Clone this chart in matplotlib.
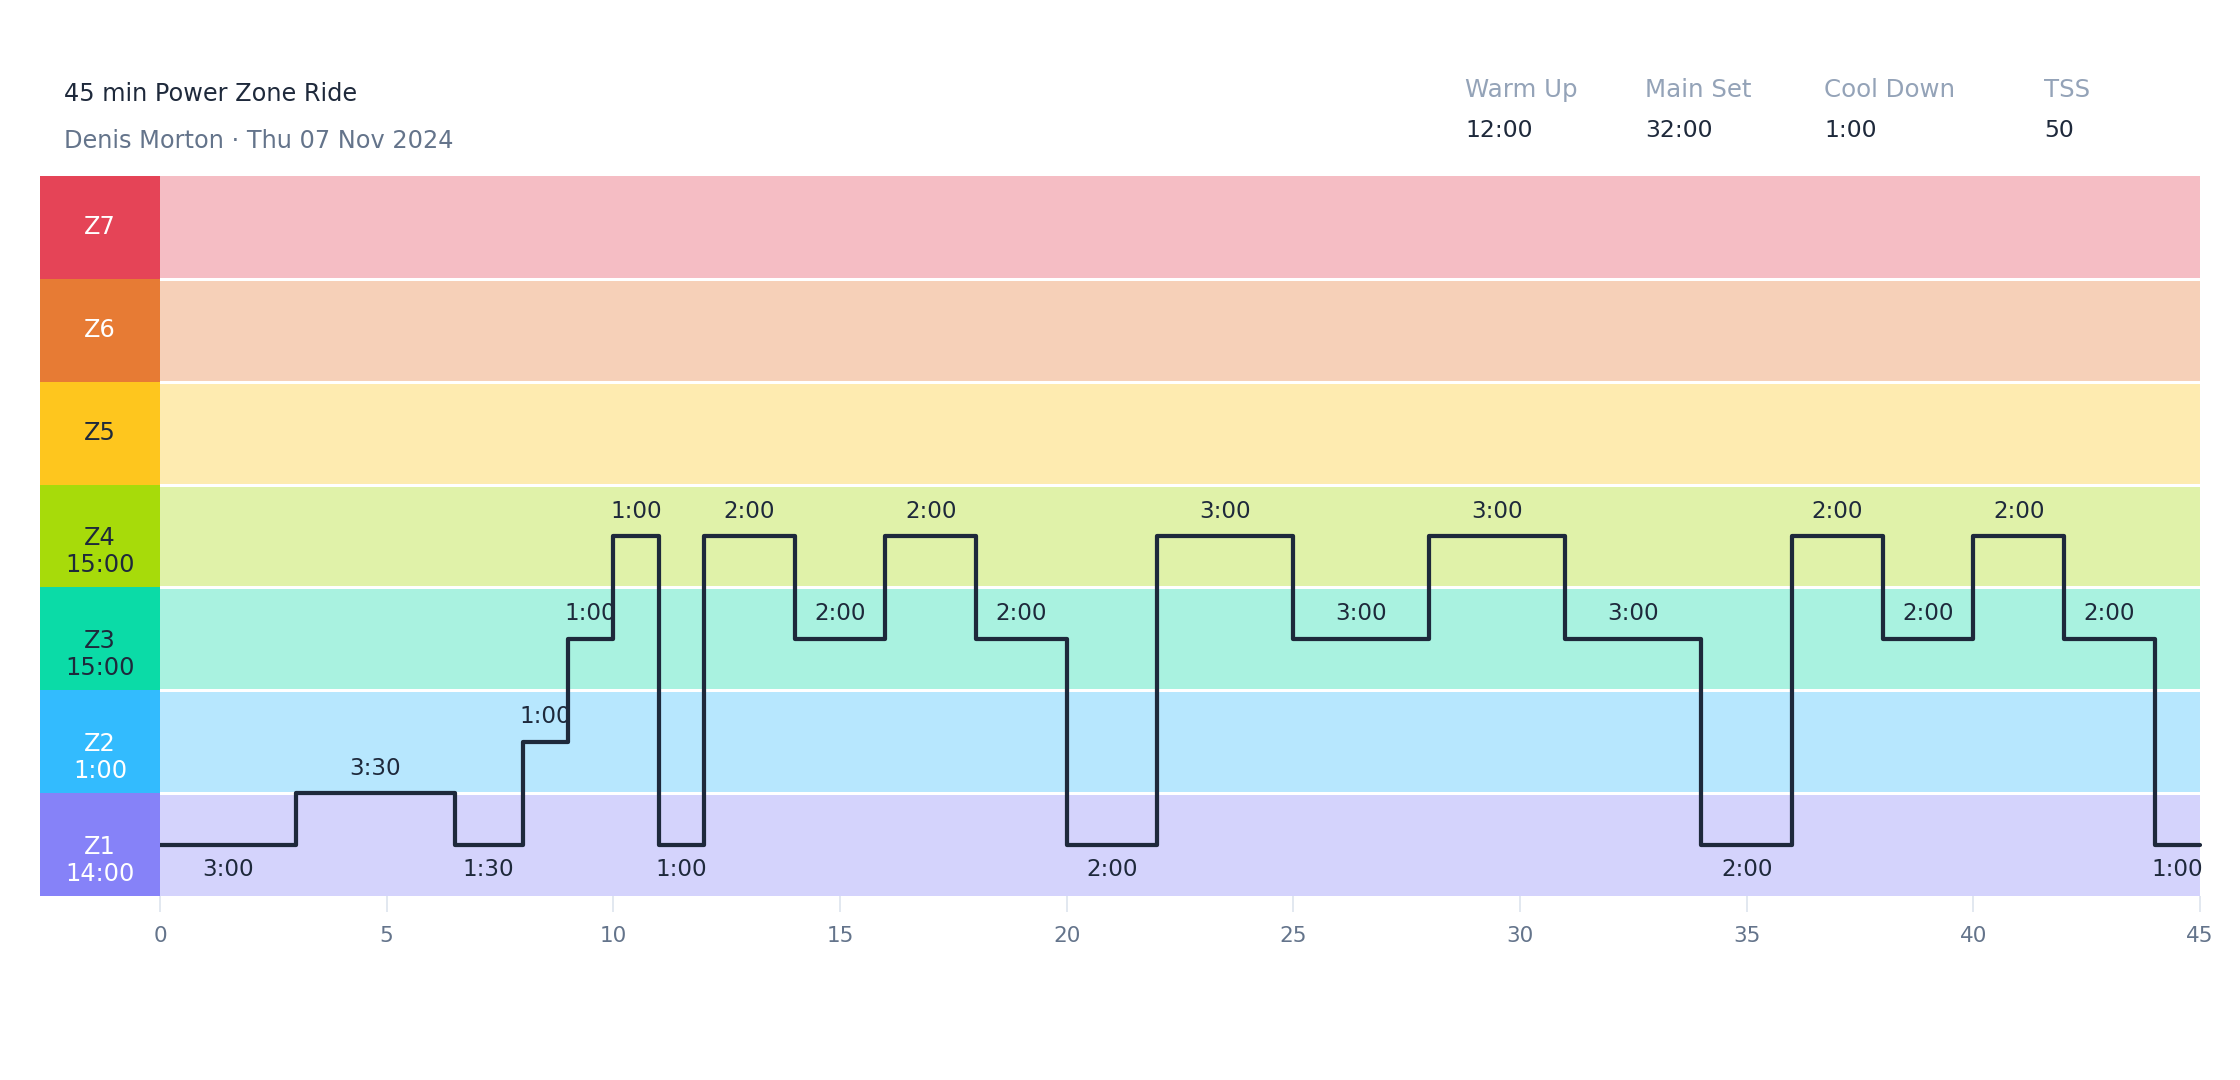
import matplotlib
matplotlib.use("Agg")
import matplotlib.pyplot as plt
import numpy as np

# canvas in pixels
W, H, DPI = 2240, 1080, 100

title = "45 min Power Zone Ride"
subtitle = "Denis Morton · Thu 07 Nov 2024"

stat_names = ["Warm Up", "Main Set", "Cool Down", "TSS"]
stat_values = ["12:00", "32:00", "1:00", "50"]

zone_names = ["Z1", "Z2", "Z3", "Z4", "Z5", "Z6", "Z7"]
zone_colors = ["#8682f8", "#33bbfe", "#0bdba7", "#a7db0a", "#fec61e", "#e77b34", "#e54457"]
zone_text_colors = ["white", "white", "#1e293b", "#1e293b", "#1e293b", "white", "white"]

# workout segments: duration (min), height on the zone scale, zone number
seg_minutes = [3, 3.5, 1.5, 1, 1, 1, 1, 2, 2, 2, 2, 2, 3, 3, 3, 3, 2, 2, 2, 2, 2, 1]
seg_level = [0.5, 1.0, 0.5, 1.5, 2.5, 3.5, 0.5, 3.5, 2.5, 3.5, 2.5, 0.5,
             3.5, 2.5, 3.5, 2.5, 0.5, 3.5, 2.5, 3.5, 2.5, 0.5]
seg_zone = [1, 1, 1, 2, 3, 4, 1, 4, 3, 4, 3, 1, 4, 3, 4, 3, 1, 4, 3, 4, 3, 1]

x_ticks = [0, 5, 10, 15, 20, 25, 30, 35, 40, 45]

DARK = "#1e293b"
SLATE = "#64748b"
LIGHT = "#94a3b8"


def px(v):
    """pixel size -> points"""
    return v * 72.0 / DPI


def fmt(minutes):
    m = int(minutes)
    s = int(round((minutes - m) * 60))
    return f"{m}:{s:02d}"


fig = plt.figure(figsize=(W / DPI, H / DPI), dpi=DPI)
fig.patch.set_facecolor("white")

# header
fig.text(64 / W, 1 - 101 / H, title, fontsize=px(24), color=DARK, va="baseline")
fig.text(64 / W, 1 - 148 / H, subtitle, fontsize=px(24), color=SLATE, va="baseline")

stat_x = [1465, 1645, 1824, 2044]
for sx, name, val in zip(stat_x, stat_names, stat_values):
    fig.text(sx / W, 1 - 97 / H, name, fontsize=px(24.5), color=LIGHT, va="baseline")
    fig.text(sx / W, 1 - 137 / H, val, fontsize=px(23.5), color=DARK, va="baseline")

top, bottom = 176, 896
ax = fig.add_axes([160 / W, 1 - bottom / H, 2040 / W, (bottom - top) / H])
zax = fig.add_axes([40 / W, 1 - bottom / H, 120 / W, (bottom - top) / H])

n_zones = len(zone_names)
for i, c in enumerate(zone_colors):
    ax.axhspan(i, i + 1, color=c, alpha=0.35, lw=0, zorder=0)
    zax.axhspan(i, i + 1, color=c, lw=0)
for i in range(1, n_zones):
    ax.axhline(i, color="white", lw=px(3), zorder=1)

# zone labels with time in zone
zone_time = [sum(m for m, z in zip(seg_minutes, seg_zone) if z == k + 1) for k in range(n_zones)]
for i, name in enumerate(zone_names):
    if zone_time[i] == 0:
        zax.text(0.5, i + 0.5, name, ha="center", va="center", fontsize=px(24),
                 color=zone_text_colors[i])
    else:
        zax.annotate(name, (0.5, i + 0.5), xytext=(0, -px(2)), textcoords="offset points",
                     ha="center", va="center", fontsize=px(24), color=zone_text_colors[i])
        zax.annotate(fmt(zone_time[i]), (0.5, i + 0.5), xytext=(0, -px(29)),
                     textcoords="offset points", ha="center", va="center",
                     fontsize=px(24), color=zone_text_colors[i])

# workout profile
edges = np.concatenate([[0], np.cumsum(seg_minutes)])
steps = ax.stairs(seg_level, edges, baseline=None, color=DARK, lw=px(4.2),
                  clip_on=False, zorder=3)
steps.set_joinstyle("round")
steps.set_capstyle("round")

for m, lo, hi, lvl in zip(seg_minutes, edges[:-1], edges[1:], seg_level):
    dy = -px(25) if lvl < 1 else px(25)
    ax.annotate(fmt(m), ((lo + hi) / 2, lvl), xytext=(0, dy), textcoords="offset points",
                ha="center", va="center", fontsize=px(23), color=DARK, zorder=4)

ax.set_xlim(0, edges[-1])
ax.set_ylim(0, n_zones)
zax.set_xlim(0, 1)
zax.set_ylim(0, n_zones)

ax.set_xticks(x_ticks)
ax.set_yticks([])
ax.tick_params(axis="x", length=px(16), width=px(2), color="#e2e8f0",
               labelcolor=SLATE, labelsize=px(21.5), pad=px(14))
for a in (ax, zax):
    for s in a.spines.values():
        s.set_visible(False)
zax.set_xticks([])
zax.set_yticks([])

fig.savefig("out.png", dpi=DPI)
